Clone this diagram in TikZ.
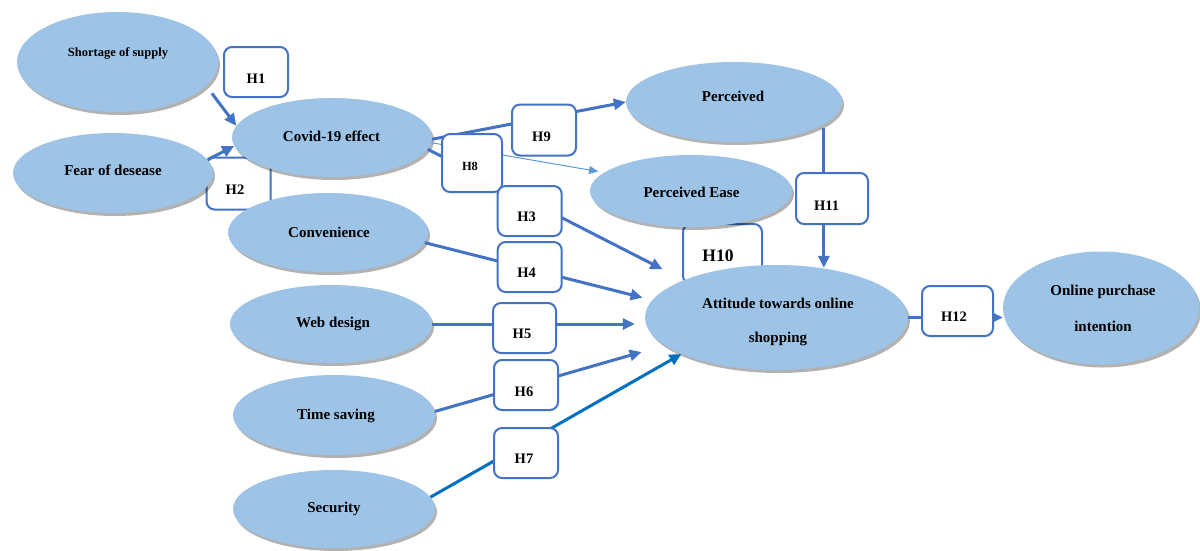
\documentclass[tikz,border=0pt]{standalone}
\usepackage{fontspec}
\setmainfont{Liberation Serif}
\usetikzlibrary{shapes.geometric,arrows.meta,shadows,calc}
\definecolor{ellfill}{HTML}{9DC3E6}
\definecolor{lineblue}{HTML}{4472C4}
\definecolor{darkblue}{HTML}{0070C0}
\definecolor{thinblue}{HTML}{5B9BD5}
\tikzset{
  ell/.style={ellipse, fill=ellfill, inner sep=0pt,
    drop shadow={shadow xshift=2pt, shadow yshift=-3pt, fill=black, opacity=.3}},
  etxt/.style={font=\fontsize{15}{18}\selectfont\bfseries, inner sep=0pt},
  hbox/.style={draw=lineblue, line width=2pt, rounded corners=8pt, fill=white,
    minimum width=64pt, minimum height=50pt, inner sep=0pt},
  htxt/.style={font=\fontsize{14.5}{17}\selectfont\bfseries, inner sep=0pt},
  arr/.style={draw=lineblue, line width=3pt, -{Triangle[length=12pt,width=11pt]}},
  darkarr/.style={draw=darkblue, line width=3pt, -{Triangle[length=12pt,width=11pt]}},
  thinarr/.style={draw=thinblue, line width=1pt, -{Triangle[length=9pt,width=8pt]}}
}
\begin{document}
\begin{tikzpicture}[x=1pt,y=-1pt]
\useasboundingbox (0,0) rectangle (1200,550);
\fill[white] (0,0) rectangle (1200,550);

% boxes lying under the ellipses
\node[hbox, minimum width=64pt, minimum height=52pt] (b2) at (238.5,183.5) {};
\node[htxt] (t2) at (235,190) {H2};
\node[hbox, minimum width=79pt, minimum height=60pt] (b10) at (722.5,254) {};
\node[htxt, font=\fontsize{17.5}{20}\selectfont\bfseries] (t10) at (718,256) {H10};

% ellipses
\node[ell, minimum width=201pt, minimum height=100pt] (short) at (117.5,62) {};
\node[ell, minimum width=200pt, minimum height=80pt] (fear) at (113,173) {};
\node[ell, minimum width=200pt, minimum height=79pt] (cov) at (332,137.5) {};
\node[ell, minimum width=200pt, minimum height=79pt] (con) at (328,232.5) {};
\node[ell, minimum width=202pt, minimum height=78pt] (web) at (331,324) {};
\node[ell, minimum width=202pt, minimum height=80pt] (time) at (334,415) {};
\node[ell, minimum width=202pt, minimum height=78pt] (sec) at (334,509) {};
\node[ell, minimum width=216pt, minimum height=80pt] (per) at (734,102) {};
\node[ell, minimum width=202pt, minimum height=72pt] (pe) at (691,191) {};
\node[ell, minimum width=263pt, minimum height=105pt] (att) at (776.5,317.5) {};
\node[ell, minimum width=196pt, minimum height=113pt] (onl) at (1101,308) {};

% ellipse texts
\node[etxt, font=\fontsize{12.5}{15}\selectfont\bfseries] (shortt) at (118,53) {Shortage of supply};
\node[etxt] (feart) at (113,170) {Fear of desease};
\node[etxt] (covt) at (331.5,136) {Covid-19 effect};
\node[etxt] (cont) at (329,232) {Convenience};
\node[etxt] (webt) at (333,324) {Web design};
\node[etxt] (timet) at (336,416) {Time saving};
\node[etxt] (sect) at (334,509) {Security};
\node[etxt] (pert) at (733,96) {Perceived};
\node[etxt] (pet) at (691.5,192) {Perceived Ease};
\node[etxt] (att1) at (778,303) {Attitude towards online};
\node[etxt] (att2) at (778,339) {shopping};
\node[etxt] (onl1) at (1103,292) {Online purchase};
\node[etxt] (onl2) at (1103,326) {intention};

% connectors
\draw[arr, shorten <=9.5pt] (short.-15) -- (cov.173);
\draw[arr] (fear.8) -- (cov.185);
\draw[arr] (cov.-1) -- (per.180);
\draw[thinarr, shorten >=6pt] (cov.-3) -- (pe.168);
\draw[arr, shorten >=24pt] (cov.-7) -- (att.158);
\draw[arr, shorten >=10pt] (con.-6) -- (att.172);
\draw[arr, shorten >=10pt] (web.east) -- (web.east -| att.west);
\draw[arr, shorten >=24pt] (time.2) -- (att.194);
\draw[darkarr] (sec.7) -- (att.201);
\draw[arr, shorten <=4pt, shorten >=-3pt] (per.-14) -- (per.-14 |- att.north);
\draw[arr] (att.east) -- (att.east -| onl.west);

% hypothesis boxes on top
\node[hbox] (b1) at (256,72) {};
\node[htxt] (t1) at (256,79) {H1};
\node[hbox, minimum height=51pt] (b9) at (544,130) {};
\node[htxt] (t9) at (541.5,136.5) {H9};
\node[hbox, minimum width=60pt, minimum height=58pt] (b8) at (472,163) {};
\node[htxt, font=\fontsize{12.5}{15}\selectfont\bfseries] (t8) at (470,166.5) {H8};
\node[hbox] (b3) at (529.7,211) {};
\node[htxt] (t3) at (526.7,216.7) {H3};
\node[hbox] (b4) at (529.7,267) {};
\node[htxt] (t4) at (526.7,273) {H4};
\node[hbox, minimum width=72pt, minimum height=51pt] (b11) at (832,198.5) {};
\node[htxt] (t11) at (826.7,205.5) {H11};
\node[hbox, minimum width=63pt] (b5) at (524.5,328) {};
\node[htxt] (t5) at (522,334) {H5};
\node[hbox] (b6) at (526,385) {};
\node[htxt] (t6) at (524,391.5) {H6};
\node[hbox] (b7) at (526,453) {};
\node[htxt] (t7) at (524,459) {H7};
\node[hbox, minimum width=71pt] (b12) at (957.5,311) {};
\node[htxt] (t12) at (954,317) {H12};
\end{tikzpicture}
\end{document}
